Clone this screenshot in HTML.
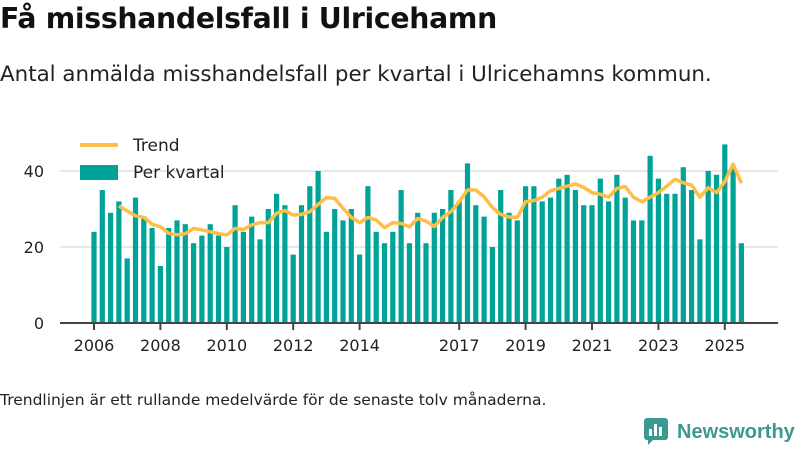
<!DOCTYPE html>
<html><head><meta charset="utf-8"><style>
body{margin:0;width:800px;height:450px;background:#fff;font-family:"Liberation Sans","DejaVu Sans",sans-serif;overflow:hidden;position:relative;color:#111}
#title{position:absolute;left:0;top:2px;font-size:28.3px;font-weight:bold;font-family:"DejaVu Sans",sans-serif;letter-spacing:-0.3px;white-space:nowrap}
#sub{position:absolute;left:0;top:62px;font-size:21.4px;font-family:"DejaVu Sans",sans-serif;color:#222;white-space:nowrap}
#foot{position:absolute;left:0;top:391px;font-size:15.5px;font-family:"DejaVu Sans",sans-serif;color:#222;white-space:nowrap}
#logo{position:absolute;left:644px;top:418px;font-size:20px;font-weight:bold;color:#3a9a8f;font-family:"Liberation Sans",sans-serif;white-space:nowrap;display:flex;align-items:center}
svg{position:absolute;left:0;top:0}
</style></head><body>
<div id="title">Få misshandelsfall i Ulricehamn</div>
<div id="sub">Antal anmälda misshandelsfall per kvartal i Ulricehamns kommun.</div>
<svg id="chart" width="800" height="450"></svg>
<div id="foot">Trendlinjen är ett rullande medelvärde för de senaste tolv månaderna.</div>
<div id="logo"><svg width="24" height="28" viewBox="0 0 24 28" style="position:static;margin-right:9px"><rect x="0" y="0" width="24" height="22" rx="3" fill="#3a9a8f"/><polygon points="4,21 10,21 4,27" fill="#3a9a8f"/><rect x="5" y="11" width="3" height="7" fill="#fff"/><rect x="10" y="6" width="3" height="12" fill="#fff"/><rect x="15" y="9" width="3" height="9" fill="#fff"/></svg>Newsworthy</div>
<script>
const values=[24,35,29,32,17,33,28,25,15,25,27,26,21,23,26,23,20,31,24,28,22,30,34,31,18,31,36,40,24,30,27,30,18,36,24,21,24,35,21,29,21,29,30,35,32,42,31,28,20,35,29,27,36,36,32,33,38,39,35,31,31,38,32,39,33,27,27,44,38,34,34,41,35,22,40,39,47,41,21];
const trend=[30.8,29.5,28.2,27.8,26,25.3,23.6,23.2,23.5,24.9,24.5,24,23.5,23.2,24.9,24.6,25.8,26.4,26.4,28.9,29.6,28.4,28.6,29.3,31.2,33,32.8,30.2,27.8,26.4,27.8,27.1,25.1,26.4,26.2,25.3,27.5,26.8,25.4,27.8,29.3,31.9,35,35,33.2,30.4,28.6,27.9,27.8,31.9,32.2,33.1,34.8,35.4,36,36.6,35.7,34.3,33.9,33.1,35.4,35.9,33.1,31.9,33.1,34.3,36,37.8,36.9,36.3,33.1,35.6,34.3,37.2,41.8,36.8];
const trendStart=3;
const xTicks=[2006,2008,2010,2012,2014,2017,2019,2021,2023,2025];
const yTicks=[0,20,40];
const NS="http://www.w3.org/2000/svg";
const svg=document.getElementById('chart');
const x=i=>94+i*8.3;
const xYear=yr=>x((yr-2006)*4);
const y=v=>323-v*3.8;
function el(t,a){const e=document.createElementNS(NS,t);for(const k in a)e.setAttribute(k,a[k]);svg.appendChild(e);return e;}
yTicks.forEach(v=>{
 if(v>0){const g=el('line',{x1:60,x2:778,y1:y(v),y2:y(v),stroke:'#e0e0e0','stroke-width':1.5});
 
 }
 const t=el('text',{x:44,y:y(v)+6,'text-anchor':'end','font-size':16,fill:'#222','font-family':'DejaVu Sans,sans-serif'});t.textContent=v;
 
 
});
values.forEach((v,i)=>{
 const r=el('rect',{x:x(i)-2.6,y:y(v),width:5.2,height:v*3.8,fill:'#00a398'});
 
 
});
const pts=trend.map((v,i)=>x(i+trendStart)+','+y(v)).join(' ');
const pl=el('polyline',{points:pts,fill:'none',stroke:'#ffbe45','stroke-width':3.5,'stroke-linejoin':'round'});


const ax=el('line',{x1:60,x2:778,y1:323,y2:323,stroke:'#444','stroke-width':2});


xTicks.forEach(yr=>{
 const tk=el('line',{x1:xYear(yr),x2:xYear(yr),y1:323,y2:330,stroke:'#444','stroke-width':2});
 
 
 const t=el('text',{x:xYear(yr),y:351,'text-anchor':'middle','font-size':16,fill:'#222','font-family':'DejaVu Sans,sans-serif'});t.textContent=yr;
 
 
});
const l1=el('line',{x1:80,x2:118,y1:145,y2:145,stroke:'#ffbe45','stroke-width':4});


const t1=el('text',{x:133,y:151,'font-size':17,fill:'#222','font-family':'DejaVu Sans,sans-serif'});t1.textContent='Trend';


const l2=el('rect',{x:80,y:165,width:38,height:15,fill:'#00a398'});


const t2=el('text',{x:133,y:178,'font-size':17,fill:'#222','font-family':'DejaVu Sans,sans-serif'});t2.textContent='Per kvartal';


</script>
</body></html>
